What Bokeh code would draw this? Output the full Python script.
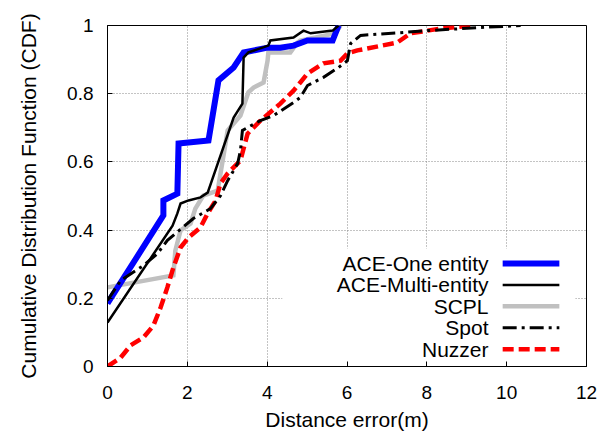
from bokeh.plotting import figure
from bokeh.models import Range1d, FixedTicker, Label
from bokeh.embed import file_html
from bokeh.resources import INLINE

# ---- data ----
ace_one_x = [0, 1.40, 1.40, 1.75, 1.78, 2.53, 2.78, 3.16, 3.41, 4.01, 4.33, 4.66, 5.01, 5.64, 5.79]
ace_one_y = [0.185, 0.443, 0.487, 0.507, 0.654, 0.663, 0.839, 0.877, 0.921, 0.935, 0.935, 0.941, 0.956, 0.956, 1.0]

ace_multi_x = [0, 1.63, 1.75, 1.83, 2.03, 2.33, 2.51, 3.16, 3.38, 3.41, 3.53, 4.03, 4.08, 4.66, 4.91, 5.09, 5.64, 5.79]
ace_multi_y = [0.129, 0.413, 0.449, 0.478, 0.487, 0.496, 0.510, 0.730, 0.771, 0.906, 0.921, 0.941, 0.956, 0.965, 0.985, 0.977, 0.985, 1.0]

scpl_x = [0, 1.65, 1.70, 1.83, 2.08, 2.20, 2.40, 2.76, 3.01, 3.33, 3.53, 3.66, 3.91, 4.01, 4.03, 4.58, 4.76, 4.83, 5.71, 5.84]
scpl_y = [0.232, 0.267, 0.340, 0.399, 0.419, 0.463, 0.501, 0.516, 0.692, 0.736, 0.804, 0.818, 0.833, 0.897, 0.921, 0.921, 0.950, 0.956, 0.977, 1.0]

spot_x = [0, 0.33, 0.90, 1.25, 1.50, 2.15, 2.58, 2.83, 3.01, 3.26, 3.33, 3.38, 3.51, 3.83, 4.16, 4.66, 4.83, 5.01, 5.41, 5.79, 6.01, 6.09, 6.34, 7.34, 8.02, 9.34, 10.35]
spot_y = [0.194, 0.252, 0.296, 0.331, 0.370, 0.434, 0.463, 0.501, 0.545, 0.595, 0.633, 0.692, 0.701, 0.721, 0.736, 0.774, 0.789, 0.824, 0.848, 0.877, 0.897, 0.947, 0.971, 0.979, 0.985, 0.994, 1.0]

nuzzer_x = [0, 0.33, 0.58, 0.90, 1.15, 1.33, 1.50, 1.65, 1.83, 2.03, 2.33, 2.51, 2.71, 2.83, 3.01, 3.16, 3.33, 3.51, 3.83, 4.33, 4.66, 4.83, 5.01, 5.41, 5.84, 6.01, 6.26, 7.26, 7.59, 8.34, 9.17]
nuzzer_y = [0, 0.026, 0.062, 0.085, 0.120, 0.173, 0.232, 0.290, 0.349, 0.378, 0.408, 0.449, 0.487, 0.537, 0.566, 0.584, 0.604, 0.683, 0.721, 0.771, 0.809, 0.833, 0.859, 0.889, 0.897, 0.918, 0.927, 0.950, 0.977, 0.991, 1.0]

series_names = ["ACE-One entity", "ACE-Multi-entity", "SCPL", "Spot", "Nuzzer"]
x_ticks = [0, 2, 4, 6, 8, 10, 12]
y_ticks = [0, 0.2, 0.4, 0.6, 0.8, 1.0]
y_tick_labels = ["0", "0.2", "0.4", "0.6", "0.8", "1"]

FONT = "Liberation Sans"

p = figure(width=602, height=434, output_backend="svg", toolbar_location=None,
           x_range=Range1d(0, 12), y_range=Range1d(0, 1),
           min_border_left=107, min_border_right=16, min_border_top=25, min_border_bottom=68)
p.background_fill_color = "white"
p.border_fill_color = "white"
p.outline_line_color = "black"
p.outline_line_width = 1

for ax in (p.xaxis[0], p.yaxis[0]):
    ax.axis_line_color = "black"
    ax.major_tick_in = 5
    ax.major_tick_out = 0
    ax.minor_tick_line_color = None
    ax.major_tick_line_color = "black"
    ax.major_label_text_font = FONT
    ax.major_label_text_font_size = "19px"
    ax.major_label_text_color = "black"
    ax.axis_label_text_font = FONT
    ax.axis_label_text_font_size = "21px"
    ax.axis_label_text_font_style = "normal"
    ax.axis_label_text_color = "black"

p.xaxis.ticker = FixedTicker(ticks=x_ticks)
p.yaxis.ticker = FixedTicker(ticks=y_ticks)
p.yaxis.major_label_overrides = {t: l for t, l in zip(y_ticks, y_tick_labels)}
p.xaxis.axis_label = "Distance error(m)"
p.yaxis.axis_label = "Cumulative Distribution Function (CDF)"
p.xaxis.major_label_standoff = 19
p.yaxis.major_label_standoff = 14
p.xaxis.axis_label_standoff = 6
p.yaxis.axis_label_standoff = 24

for g in (p.xgrid[0], p.ygrid[0]):
    g.grid_line_color = "#888888"
    g.grid_line_dash = "1 2"
    g.grid_line_width = 1
p.xgrid.ticker = FixedTicker(ticks=x_ticks[1:-1])
p.ygrid.ticker = FixedTicker(ticks=y_ticks[1:-1])

styles = [
    dict(line_color="#0000ff", line_width=6, line_dash="solid"),
    dict(line_color="black", line_width=2.5, line_dash="solid"),
    dict(line_color="#c0c0c0", line_width=4.5, line_dash="solid"),
    dict(line_color="black", line_width=3, line_dash="14 5 3 5"),
    dict(line_color="#ff0000", line_width=4.5, line_dash="11 5"),
]
data = [(ace_one_x, ace_one_y), (ace_multi_x, ace_multi_y), (scpl_x, scpl_y),
        (spot_x, spot_y), (nuzzer_x, nuzzer_y)]

order = [2, 0, 4, 3, 1]
for i in order:
    xs, ys = data[i]
    p.line(xs, ys, line_join="miter", **styles[i])

# ---- legend box (white, covering the grid) ----
p.quad(left=[4.38], right=[11.72], bottom=[0.0], top=[0.346], fill_color="white", line_color=None)

leg_text_x = 9.545
leg_line_x0, leg_line_x1 = 9.9, 11.32
leg_y0, leg_dy = 0.302, 0.0628
for i, name in enumerate(series_names):
    yy = leg_y0 - i * leg_dy
    p.line([leg_line_x0, leg_line_x1], [yy, yy], **styles[i])
    p.add_layout(Label(x=leg_text_x, y=yy, text=name, text_align="right", text_baseline="middle",
                       text_font=FONT, text_font_size="21px", text_color="black"))

open("out.html", "w").write(file_html(p, INLINE))
